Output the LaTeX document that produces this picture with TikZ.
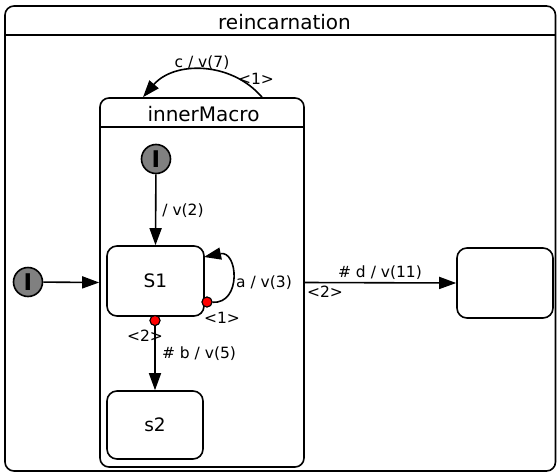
\documentclass[tikz,border=0pt]{standalone}
\usepackage{fontspec}
\setmainfont{DejaVu Sans}
\usetikzlibrary{arrows.meta,positioning}
\definecolor{initGray}{HTML}{808080}
\definecolor{entryRed}{HTML}{FF0000}

\begin{document}
\begin{tikzpicture}[
  x=1pt,y=-1pt,line width=1.6pt,
  macro/.style={draw,rounded corners=9pt,inner sep=0pt},
  state/.style={draw,rounded corners=10pt,inner sep=0pt,font=\fontsize{18.5}{22}\selectfont},
  title/.style={inner sep=0pt,font=\fontsize{20}{24}\selectfont},
  initial/.style={circle,draw,fill=initGray,minimum size=29pt,inner sep=0pt,font=\bfseries\fontsize{23}{24}\selectfont},
  entry/.style={circle,draw,fill=entryRed,minimum size=10pt,inner sep=0pt,line width=1pt},
  lbl/.style={inner sep=0pt,font=\fontsize{15.5}{18}\selectfont},
  arr/.style={-{Triangle[length=17pt,width=12pt]}}
]
\useasboundingbox (0,0) rectangle (557,474);

% ---- Macro states ----
\node[macro,minimum width=550.5pt,minimum height=465pt] (reinc) at (280.25,238.5) {};
\draw ([yshift=-30pt]reinc.north west) -- ([yshift=-30pt]reinc.north east);
\node[title] (reincTitle) at (284.5,22) {reincarnation};

\node[macro,minimum width=204pt,minimum height=369pt] (inner) at (202,282.5) {};
\draw ([yshift=-30pt]inner.north west) -- ([yshift=-30pt]inner.north east);
\node[title] (innerTitle) at (203.5,114) {innerMacro};

% ---- Simple states ----
\node[state,minimum width=97pt,minimum height=70pt] (S1)  at (155.5,281) {S1};
\node[state,minimum width=96pt,minimum height=68pt] (s2)  at (155,425)   {s2};
\node[state,minimum width=96pt,minimum height=70pt] (out) at (505,283)   {};

% ---- Initial pseudo states ----
\node[initial] (init1) at (28,282)  {I};
\node[initial] (init2) at (156,159) {I};

% ---- Entry points ----
\node[entry] (ep1) at (207,302)   {};
\node[entry] (ep2) at (155,320.5) {};

\coordinate (s1in)     at (204,257);
\coordinate (loopFrom) at ([xshift=60pt]inner.north);
\coordinate (loopTo)   at ([xshift=-59pt]inner.north);

% ---- Transitions ----
\draw[arr] (init1) -- (inner.west);
\draw[arr] (init2) -- (S1.north);
\draw[arr] (ep2) -- (s2.north);
\draw[arr] (ep1) .. controls (242,304) and (238,250) .. (s1in);
\draw[arr] (loopFrom) .. controls (231,61) and (174,61) .. (loopTo);
\draw[arr] (inner.east) -- (out.west);
\node[entry] at (ep1) {};
\node[entry] at (ep2) {};

% ---- Labels ----
\node[lbl] (lc)  at (202,63)  {c / v(7)};
\node[lbl] (lc1) at (256,79)  {<1>};
\node[lbl] (la)  at (183,211) {/ v(2)};
\node[lbl] (lb)  at (264,283) {a / v(3)};
\node[lbl] (lb1) at (222,318) {<1>};
\node[lbl] (ld1) at (145,336) {<2>};
\node[lbl] (ld)  at (199,354) {\# b / v(5)};
\node[lbl] (le)  at (380,273) {\# d / v(11)};
\node[lbl] (le1) at (325,292) {<2>};
\end{tikzpicture}
\end{document}
